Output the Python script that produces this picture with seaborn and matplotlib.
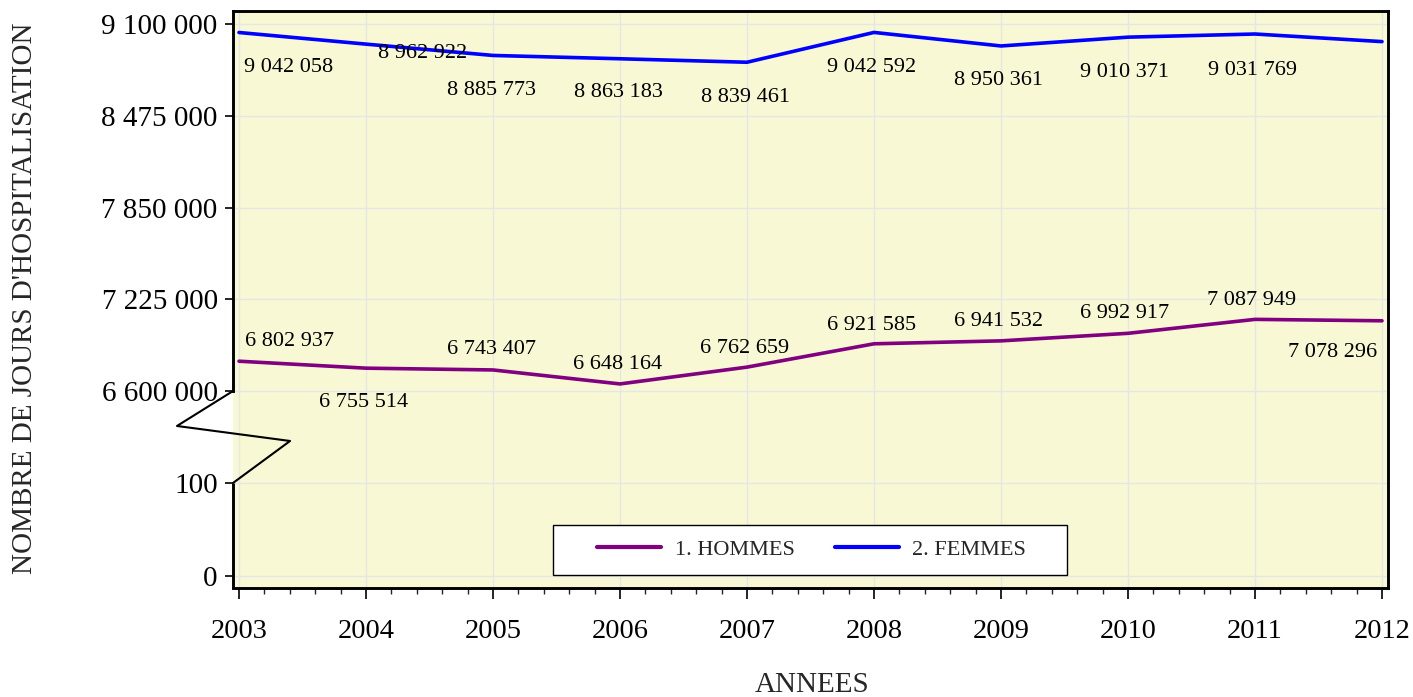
"""
Nombre de jours d'hospitalisation par sexe, 2003-2012 (axe Y coupé).
"""

import numpy as np
import pandas as pd
import matplotlib
matplotlib.use("Agg")
import matplotlib.pyplot as plt
import matplotlib.ticker as mticker
from matplotlib.patches import Rectangle
import seaborn as sns

# ─────────────────────────────────────────────
# Données
# ─────────────────────────────────────────────
years = list(range(2003, 2013))
hommes = [6802937, 6755514, 6743407, 6648164, 6762659,
          6921585, 6941532, 6992917, 7087949, 7078296]
femmes = [9042058, 8962922, 8885773, 8863183, 8839461,
          9042592, 8950361, 9010371, 9031769, 8980000]
series_names = ["1. HOMMES", "2. FEMMES"]
y_ticks = [0, 100, 6600000, 7225000, 7850000, 8475000, 9100000]

# décalages (pixels) des étiquettes de valeurs
hommes_offsets = [(50, 20), (-2, -34), (-2, 20), (-2, 19), (-2, 19),
                  (-2, 18), (-3, 19), (-3, 20), (-3, 19), (-49, -32)]
femmes_offsets = [(50, -35), (57, -9), (-2, -35), (-2, -34), (-2, -35),
                  (-2, -35), (-3, -35), (-4, -35), (-3, -36)]

df = pd.DataFrame({
    "ANNEES": years * 2,
    "JOURS": hommes + femmes,
    "SEXE": [series_names[0]] * len(years) + [series_names[1]] * len(years),
})

# ─────────────────────────────────────────────
# Échelle avec coupure (0-100 puis 6,6 M - 9,1 M)
# ─────────────────────────────────────────────
LOW, HIGH = 100.0, 6600000.0
LOW_PX, GAP_PX, PER_PX = 93.0, 92.0, 2500000.0 / 367.0


def fwd(v):
    v = np.asarray(v, dtype=float)
    low = v * LOW_PX / LOW
    mid = LOW_PX + (v - LOW) * GAP_PX / (HIGH - LOW)
    high = LOW_PX + GAP_PX + (v - HIGH) / PER_PX
    return np.where(v <= LOW, low, np.where(v >= HIGH, high, mid))


def inv(p):
    p = np.asarray(p, dtype=float)
    low = p * LOW / LOW_PX
    mid = LOW + (p - LOW_PX) * (HIGH - LOW) / GAP_PX
    high = HIGH + (p - LOW_PX - GAP_PX) * PER_PX
    return np.where(p <= LOW_PX, low, np.where(p >= LOW_PX + GAP_PX, high, mid))


def fmt_num(v, pos=None):
    return f"{v:,.0f}".replace(",", " ")


# ─────────────────────────────────────────────
# Figure
# ─────────────────────────────────────────────
sns.set_theme(style="white")
plt.rcParams['font.family'] = ['Liberation Serif', 'DejaVu Serif']

fig = plt.figure(figsize=(14.13, 6.97), dpi=100)
ax = fig.add_axes([233 / 1413, 109 / 697, 1155 / 1413, 577 / 697])
ax.set_facecolor('#F8F8D4')
ax.set_yscale('function', functions=(fwd, inv))

sns.lineplot(data=df, x="ANNEES", y="JOURS", hue="SEXE",
             palette={series_names[0]: '#800080', series_names[1]: '#0000FF'},
             linewidth=2.6, ax=ax)

ax.set_xlim(2003 - 6 / 127, 2012 + 6 / 127)
ax.set_ylim(inv(-12.0), inv(565.0))

ax.set_xticks(years)
ax.set_xticklabels([str(y) for y in years])
ax.xaxis.set_minor_locator(mticker.MultipleLocator(0.2))
ax.set_yticks(y_ticks)
ax.yaxis.set_major_formatter(mticker.FuncFormatter(fmt_num))
ax.yaxis.set_minor_locator(mticker.NullLocator())

ax.tick_params(axis='x', which='major', bottom=True, length=8, width=1.2,
               pad=14, labelsize=20.5, colors='black')
ax.tick_params(axis='x', which='minor', bottom=True, length=4, width=1.0)
ax.tick_params(axis='y', which='major', left=True, length=6, width=1.2,
               pad=5, labelsize=21, colors='black')

ax.grid(True, which='major', color='#E6E6E6', linewidth=1)
ax.set_axisbelow(True)

for side in ['top', 'right', 'bottom', 'left']:
    ax.spines[side].set_color('black')
    ax.spines[side].set_linewidth(2.1)
ax.spines['left'].set_bounds(HIGH, inv(565.0))

# partie basse de l'axe et zigzag de coupure
ax.plot([0, 0], [0, 0.182], transform=ax.transAxes, color='black',
        linewidth=2.1, clip_on=False, solid_capstyle='butt')
ax.plot([0, -0.0485, 0.0494, 0], [0.3414, 0.2808, 0.2548, 0.182],
        transform=ax.transAxes, color='black', linewidth=1.5, clip_on=False)

# étiquettes de valeurs
for vals, offs in [(hommes, hommes_offsets), (femmes, femmes_offsets)]:
    for yr, v, (dx, dy) in zip(years, vals, offs):
        ax.annotate(fmt_num(v), (yr, v), xytext=(dx, dy),
                    textcoords='offset pixels', ha='center', va='center',
                    fontsize=16, color='black')

# légende
ax.add_patch(Rectangle((320 / 1155, 13 / 577), 514 / 1155, 50 / 577,
                       transform=ax.transAxes, facecolor='white',
                       edgecolor='black', linewidth=1, zorder=4))
sns.move_legend(ax, loc='center', bbox_to_anchor=(0.5009, 0.0659), ncol=2,
                frameon=False, title=None, fontsize=16, handlelength=2.9,
                handletextpad=0.6, columnspacing=1.8)
leg = ax.get_legend()
leg.set_zorder(5)
for h in leg.legend_handles:
    h.set_linewidth(3.0)

ax.set_xlabel("")
ax.set_ylabel("")
fig.text(812 / 1413, 1 - 685 / 697, "ANNEES", ha='center', va='center',
         fontsize=21)
fig.text(25 / 1413, 1 - 298 / 697, "NOMBRE DE JOURS D'HOSPITALISATION",
         ha='center', va='center', rotation=90, fontsize=21)

fig.savefig('out.png', dpi=100, facecolor='white')
